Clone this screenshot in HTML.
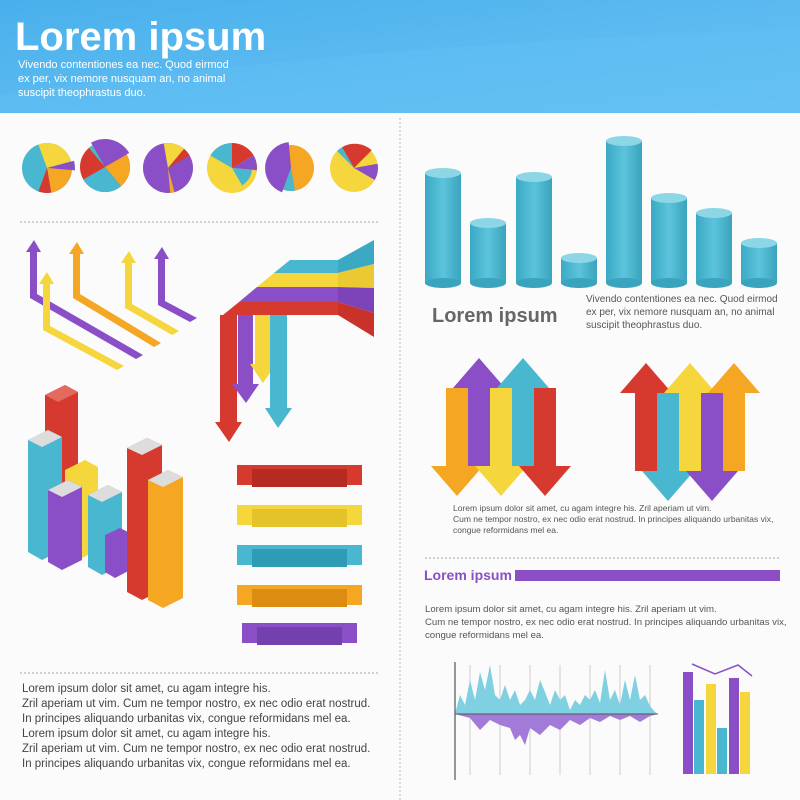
<!DOCTYPE html>
<html><head><meta charset="utf-8"><style>
body{margin:0;width:800px;height:800px;overflow:hidden;background:#fafafa;font-family:"Liberation Sans",sans-serif}
svg{display:block}
</style></head><body>
<svg width="800" height="800" viewBox="0 0 800 800" xmlns="http://www.w3.org/2000/svg" font-family="Liberation Sans, sans-serif">
<defs>
<linearGradient id="hd" x1="0" y1="0" x2="1" y2="1"><stop offset="0" stop-color="#49b0ec"/><stop offset="1" stop-color="#6cc3f3"/></linearGradient>
<linearGradient id="cy" x1="0" x2="1"><stop offset="0" stop-color="#3aa9c4"/><stop offset=".5" stop-color="#5cc4dc"/><stop offset="1" stop-color="#3aa3bd"/></linearGradient>
</defs>
<rect width="800" height="800" fill="#fbfbfb"/>
<rect width="800" height="113" fill="url(#hd)"/>
<path d="M0 113 L0 95 Q400 40 800 30 L800 113Z" fill="#5fc0f4" opacity=".5"/>
<text x="15" y="50" fill="#fff" font-size="40" font-weight="bold">Lorem ipsum</text>
<g fill="#fff" font-size="11"><text x="18" y="68">Vivendo contentiones ea nec. Quod eirmod</text><text x="18" y="82">ex per, vix nemore nusquam an, no animal</text><text x="18" y="96">suscipit theophrastus duo.</text></g>
<line x1="400" y1="118" x2="400" y2="800" stroke="#bbb" stroke-dasharray="2 2"/>
<line x1="20" y1="222" x2="380" y2="222" stroke="#aaa" stroke-dasharray="2 2"/>
<line x1="20" y1="673" x2="380" y2="673" stroke="#aaa" stroke-dasharray="2 2"/>
<line x1="425" y1="558" x2="780" y2="558" stroke="#aaa" stroke-dasharray="2 2"/>
<!-- pies -->
<g>
<circle cx="47" cy="168" r="25" fill="#48b7cf"/>
<path d="M47 168L38.4 144.5A25 25 0 0 1 71.1 161.5Z" fill="#f5d63d"/>
<path d="M47 168L74 160.8A28 28 0 0 1 74.9 170.4Z" fill="#8a4fc6"/>
<path d="M47 168L71.9 170.2A25 25 0 0 1 51.3 192.6Z" fill="#f5a623"/>
<path d="M47 168L51.3 192.6A25 25 0 0 1 38.4 191.5Z" fill="#d63a2f"/>

<circle cx="105" cy="167" r="25" fill="#d63a2f"/>
<path d="M105 167L91 142.8A28 28 0 0 1 129.2 153Z" fill="#8a4fc6"/>
<path d="M105 167L126.7 154.5A25 25 0 0 1 121.1 186.2Z" fill="#f5a623"/>
<path d="M105 167L121.1 186.2A25 25 0 0 1 83.3 179.5Z" fill="#48b7cf"/>
<path d="M105 167L88.9 147.9A25 25 0 0 1 92.5 145.3Z" fill="#48b7cf"/>

<circle cx="168" cy="168" r="25" fill="#8a4fc6"/>
<path d="M168 168L163.7 143.4A25 25 0 0 1 184.1 148.9Z" fill="#f5d63d"/>
<path d="M168 168L184.1 148.9A25 25 0 0 1 189.7 155.5Z" fill="#d63a2f"/>
<path d="M168 168L174.5 192.2A25 25 0 0 1 170.2 192.9Z" fill="#f5a623"/>

<circle cx="232" cy="168" r="25" fill="#f5d63d"/>
<path d="M232 168L210.3 155.5A25 25 0 0 1 232 143Z" fill="#48b7cf"/>
<path d="M232 168L232 143A25 25 0 0 1 253.7 155.5Z" fill="#d63a2f"/>
<path d="M232 168L253.7 155.5A25 25 0 0 1 256.9 170.2Z" fill="#8a4fc6"/>
<path d="M232 168L251.9 169.7A20 20 0 0 1 242 185.3Z" fill="#48b7cf"/>

<circle cx="291" cy="168" r="23" fill="#f5a623"/>
<path d="M291 168L282.1 192.4A26 26 0 0 1 288.7 142.1Z" fill="#8a4fc6"/>
<path d="M291 168L295 190.7A23 23 0 0 1 283.1 189.6Z" fill="#48b7cf"/>

<circle cx="354" cy="168" r="24" fill="#f5d63d"/>
<path d="M354 168L342 147.2A25 25 0 0 1 371.7 150.3Z" fill="#d63a2f"/>
<path d="M354 168L381.6 172.9A28 28 0 0 1 368 192.2Z" fill="#8a4fc6" opacity="0"/>
<path d="M354 168L377.6 163.8A24 24 0 0 1 374.8 180Z" fill="#8a4fc6"/>
<path d="M354 168L337 151A24 24 0 0 1 342 147.2Z" fill="#48b7cf"/>
</g>
<!-- isometric arrows left (vertical stems + diagonal legs) -->
<g>
<polygon points="30,298 37,294 143,355 136,359" fill="#8a4fc6"/>
<rect x="30" y="250" width="7" height="48" fill="#8a4fc6"/><polygon points="26,252 41,252 34,240" fill="#8a4fc6"/>
<polygon points="43,330 50,326 124,366 117,370" fill="#f5d63d"/>
<rect x="43" y="282" width="7" height="48" fill="#f5d63d"/><polygon points="39,284 54,284 47,272" fill="#f5d63d"/>
<polygon points="73,298 80,294 161,343 154,347" fill="#f5a623"/>
<rect x="73" y="252" width="7" height="46" fill="#f5a623"/><polygon points="69,254 84,254 77,242" fill="#f5a623"/>
<polygon points="125,308 132,304 179,331 172,335" fill="#f5d63d"/>
<rect x="125" y="261" width="7" height="47" fill="#f5d63d"/><polygon points="121,263 136,263 129,251" fill="#f5d63d"/>
<polygon points="158,305 165,301 197,318 190,322" fill="#8a4fc6"/>
<rect x="158" y="257" width="7" height="48" fill="#8a4fc6"/><polygon points="154,259 169,259 162,247" fill="#8a4fc6"/>
</g>
<!-- big bent arrows -->
<g>
<polygon points="290,260 338,260 338,273 274,273" fill="#48b7cf"/>
<polygon points="274,273 338,273 338,287 257,287" fill="#f5d63d"/>
<polygon points="257,287 338,287 338,302 239,302" fill="#8a4fc6"/>
<polygon points="239,302 338,302 338,315 223,315" fill="#d63a2f"/>
<polygon points="338,260 374,240 374,264 338,273" fill="#3ba9c2"/>
<polygon points="338,273 374,264 374,288 338,287" fill="#eac932"/>
<polygon points="338,287 374,288 374,313 338,302" fill="#7c44b8"/>
<polygon points="338,302 374,313 374,337 338,315" fill="#c9322a"/>
<rect x="220" y="315" width="17" height="108" fill="#d63a2f"/><polygon points="215,422 242,422 229,442" fill="#d63a2f"/>
<rect x="238" y="315" width="15" height="70" fill="#8a4fc6"/><polygon points="232,384 259,384 246,403" fill="#8a4fc6"/>
<rect x="255" y="315" width="15" height="50" fill="#f5d63d"/><polygon points="250,364 276,364 263,383" fill="#f5d63d"/>
<rect x="270" y="315" width="17" height="94" fill="#48b7cf"/><polygon points="265,408 292,408 278,428" fill="#48b7cf"/>
</g>
<!-- isometric bars -->
<g>
<polygon points="45,395 65,385 78,392 78,540 58,550 45,540" fill="#d63a2f"/><polygon points="45,395 65,385 78,392 58,402" fill="#e46a5e"/>
<polygon points="28,440 48,430 62,437 62,550 42,560 28,552" fill="#48b7cf"/><polygon points="28,440 48,430 62,437 42,447" fill="#ddd"/>
<polygon points="65,470 85,460 98,467 98,550 78,560 65,552" fill="#f5d63d"/>
<polygon points="48,490 68,480 82,487 82,560 62,570 48,562" fill="#8a4fc6"/><polygon points="48,490 68,480 82,487 62,497" fill="#ddd"/>
<polygon points="88,495 108,485 122,492 122,565 102,575 88,567" fill="#48b7cf"/><polygon points="88,495 108,485 122,492 102,502" fill="#ddd"/>
<polygon points="105,535 120,528 130,533 130,570 115,578 105,572" fill="#8a4fc6"/>
<polygon points="127,448 147,438 162,445 162,590 142,600 127,592" fill="#d63a2f"/><polygon points="127,448 147,438 162,445 142,455" fill="#ddd"/>
<polygon points="148,480 168,470 183,477 183,598 163,608 148,600" fill="#f5a623"/><polygon points="148,480 168,470 183,477 163,487" fill="#ddd"/>
</g>
<!-- ribbons -->
<g>
<rect x="237" y="465" width="125" height="20" fill="#d63a2f"/><rect x="252" y="469" width="95" height="18" fill="#b52a22"/>
<rect x="237" y="505" width="125" height="20" fill="#f5d63d"/><rect x="252" y="509" width="95" height="18" fill="#e3c22a"/>
<rect x="237" y="545" width="125" height="20" fill="#48b7cf"/><rect x="252" y="549" width="95" height="18" fill="#2f9cb6"/>
<rect x="237" y="585" width="125" height="20" fill="#f5a623"/><rect x="252" y="589" width="95" height="18" fill="#dd8c12"/>
<rect x="242" y="623" width="115" height="20" fill="#8a4fc6"/><rect x="257" y="627" width="85" height="18" fill="#7440ad"/>
</g>
<g fill="#444" font-size="11.5">
<text x="22" y="692">Lorem ipsum dolor sit amet, cu agam integre his.</text>
<text x="22" y="707">Zril aperiam ut vim. Cum ne tempor nostro, ex nec odio erat nostrud.</text>
<text x="22" y="722">In principes aliquando urbanitas vix, congue reformidans mel ea.</text>
<text x="22" y="737">Lorem ipsum dolor sit amet, cu agam integre his.</text>
<text x="22" y="752">Zril aperiam ut vim. Cum ne tempor nostro, ex nec odio erat nostrud.</text>
<text x="22" y="767">In principes aliquando urbanitas vix, congue reformidans mel ea.</text>
</g>
<!-- cylinders -->
<g>
<rect x="425" y="173" width="36" height="110" fill="url(#cy)"/><ellipse cx="443" cy="283" rx="18" ry="5" fill="#3aa3bd"/><ellipse cx="443" cy="173" rx="18" ry="5" fill="#8dd6e6"/>
<rect x="470" y="223" width="36" height="60" fill="url(#cy)"/><ellipse cx="488" cy="283" rx="18" ry="5" fill="#3aa3bd"/><ellipse cx="488" cy="223" rx="18" ry="5" fill="#8dd6e6"/>
<rect x="516" y="177" width="36" height="106" fill="url(#cy)"/><ellipse cx="534" cy="283" rx="18" ry="5" fill="#3aa3bd"/><ellipse cx="534" cy="177" rx="18" ry="5" fill="#8dd6e6"/>
<rect x="561" y="258" width="36" height="25" fill="url(#cy)"/><ellipse cx="579" cy="283" rx="18" ry="5" fill="#3aa3bd"/><ellipse cx="579" cy="258" rx="18" ry="5" fill="#8dd6e6"/>
<rect x="606" y="141" width="36" height="142" fill="url(#cy)"/><ellipse cx="624" cy="283" rx="18" ry="5" fill="#3aa3bd"/><ellipse cx="624" cy="141" rx="18" ry="5" fill="#8dd6e6"/>
<rect x="651" y="198" width="36" height="85" fill="url(#cy)"/><ellipse cx="669" cy="283" rx="18" ry="5" fill="#3aa3bd"/><ellipse cx="669" cy="198" rx="18" ry="5" fill="#8dd6e6"/>
<rect x="696" y="213" width="36" height="70" fill="url(#cy)"/><ellipse cx="714" cy="283" rx="18" ry="5" fill="#3aa3bd"/><ellipse cx="714" cy="213" rx="18" ry="5" fill="#8dd6e6"/>
<rect x="741" y="243" width="36" height="40" fill="url(#cy)"/><ellipse cx="759" cy="283" rx="18" ry="5" fill="#3aa3bd"/><ellipse cx="759" cy="243" rx="18" ry="5" fill="#8dd6e6"/>
</g>
<g fill="#555" font-size="10"><text x="586" y="302">Vivendo contentiones ea nec. Quod eirmod</text><text x="586" y="315">ex per, vix nemore nusquam an, no animal</text><text x="586" y="328">suscipit theophrastus duo.</text></g>
<text x="432" y="322" fill="#666" font-size="20" font-weight="bold">Lorem ipsum</text>
<!-- up/down arrows -->
<g>
<rect x="446" y="388" width="22" height="78" fill="#f5a623"/><polygon points="431,466 483,466 457,496" fill="#f5a623"/>
<rect x="468" y="388" width="22" height="78" fill="#8a4fc6"/><polygon points="453,388 505,388 479,358" fill="#8a4fc6"/>
<rect x="490" y="388" width="22" height="78" fill="#f5d63d"/><polygon points="475,466 527,466 501,496" fill="#f5d63d"/>
<rect x="512" y="388" width="22" height="78" fill="#48b7cf"/><polygon points="497,388 549,388 523,358" fill="#48b7cf"/>
<rect x="534" y="388" width="22" height="78" fill="#d63a2f"/><polygon points="519,466 571,466 545,496" fill="#d63a2f"/>
</g>
<g>
<rect x="635" y="393" width="22" height="78" fill="#d63a2f"/><polygon points="620,393 672,393 646,363" fill="#d63a2f"/>
<rect x="657" y="393" width="22" height="78" fill="#48b7cf"/><polygon points="642,471 694,471 668,501" fill="#48b7cf"/>
<rect x="679" y="393" width="22" height="78" fill="#f5d63d"/><polygon points="664,393 716,393 690,363" fill="#f5d63d"/>
<rect x="701" y="393" width="22" height="78" fill="#8a4fc6"/><polygon points="686,471 738,471 712,501" fill="#8a4fc6"/>
<rect x="723" y="393" width="22" height="78" fill="#f5a623"/><polygon points="708,393 760,393 734,363" fill="#f5a623"/>
</g>
<g fill="#555" font-size="8.5"><text x="453" y="511">Lorem ipsum dolor sit amet, cu agam integre his. Zril aperiam ut vim.</text><text x="453" y="522">Cum ne tempor nostro, ex nec odio erat nostrud. In principes aliquando urbanitas vix,</text><text x="453" y="533">congue reformidans mel ea.</text></g>
<text x="424" y="580" fill="#8a4fc6" font-size="14" font-weight="bold">Lorem ipsum</text>
<rect x="515" y="570" width="265" height="11" fill="#8a4fc6"/>
<g fill="#555" font-size="9.6"><text x="425" y="612">Lorem ipsum dolor sit amet, cu agam integre his. Zril aperiam ut vim.</text><text x="425" y="625">Cum ne tempor nostro, ex nec odio erat nostrud. In principes aliquando urbanitas vix,</text><text x="425" y="638">congue reformidans mel ea.</text></g>
<!-- area chart -->
<g>
<line x1="455" y1="662" x2="455" y2="780" stroke="#333"/>
<g stroke="#ccc"><line x1="470" y1="665" x2="470" y2="775"/><line x1="500" y1="665" x2="500" y2="775"/><line x1="530" y1="665" x2="530" y2="775"/><line x1="560" y1="665" x2="560" y2="775"/><line x1="590" y1="665" x2="590" y2="775"/><line x1="620" y1="665" x2="620" y2="775"/><line x1="650" y1="665" x2="650" y2="775"/></g>
<path d="M455 714 L460 695 465 705 470 680 475 700 480 672 485 690 490 665 495 695 500 700 505 685 510 700 515 690 520 705 525 700 530 690 535 700 540 680 545 692 550 705 555 690 560 700 565 695 570 710 575 700 580 705 585 695 590 700 595 690 600 703 605 670 610 700 615 690 620 705 625 680 630 700 635 675 640 700 645 695 650 706 655 712 658 714Z" fill="#7fd0e0"/>
<path d="M455 714 L470 718 480 730 490 720 500 725 510 728 515 740 520 735 525 745 530 728 540 735 550 725 560 730 570 720 580 725 590 718 600 722 610 716 620 720 630 716 640 722 650 716 658 714Z" fill="#a27ad8"/>
<line x1="455" y1="714" x2="658" y2="714" stroke="#555"/>
</g>
<g>
<rect x="683" y="672" width="10" height="102" fill="#8a4fc6"/><rect x="694" y="700" width="10" height="74" fill="#48b7cf"/>
<rect x="706" y="684" width="10" height="90" fill="#f5d63d"/><rect x="717" y="728" width="10" height="46" fill="#48b7cf"/>
<rect x="729" y="678" width="10" height="96" fill="#8a4fc6"/><rect x="740" y="692" width="10" height="82" fill="#f5d63d"/>
<polyline points="692,664 715,674 738,665 752,676" fill="none" stroke="#8a4fc6" stroke-width="1.5"/>
</g>
</svg>
</body></html>
